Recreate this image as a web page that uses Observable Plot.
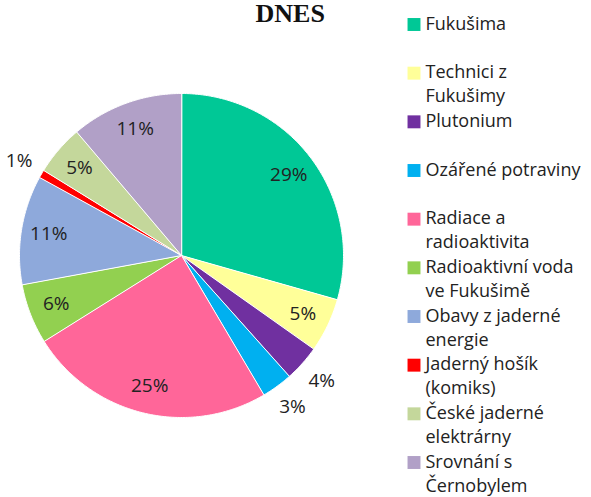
<!DOCTYPE html>
<html><head><meta charset="utf-8">
<script src="https://cdn.jsdelivr.net/npm/d3@7"></script>
<script src="https://cdn.jsdelivr.net/npm/@observablehq/plot@0.6"></script>
<style>
body{margin:0;background:#fff;}
#wrap{position:relative;width:591px;height:497px;overflow:hidden;background:#fff;}
#wrap svg{position:absolute;top:0;}
</style></head><body><div id="wrap"></div>
<script>
const title = "DNES";
const categories = ["Fukušima","Technici z Fukušimy","Plutonium","Ozářené potraviny","Radiace a radioaktivita","Radioaktivní voda ve Fukušimě","Obavy z jaderné energie","Jaderný hošík (komiks)","České jaderné elektrárny","Srovnání s Černobylem"];
const legendLabels = ["Fukušima","Technici z\nFukušimy","Plutonium","Ozářené potraviny","Radiace a\nradioaktivita","Radioaktivní voda\nve Fukušimě","Obavy z jaderné\nenergie","Jaderný hošík\n(komiks)","České jaderné\nelektrárny","Srovnání s\nČernobylem"];
const values = [29.4, 5.4, 3.6, 3.1, 24.6, 6.0, 10.9, 0.8, 5.0, 11.2];
const colors = ["#00C896","#FFFF99","#7030A0","#00B0F0","#FF6699","#92D050","#8EA9DB","#FF0000","#C4D79B","#B1A0C7"];

const arcs = d3.pie().sort(null).value(d => d)(values);
const slicePts = [];
arcs.forEach((a, i) => {
  const n = Math.max(2, Math.ceil((a.endAngle - a.startAngle) / 0.01));
  slicePts.push({cat: categories[i], x: 0, y: 0});
  for (let k = 0; k <= n; k++) {
    const t = a.startAngle + (a.endAngle - a.startAngle) * k / n;
    slicePts.push({cat: categories[i], x: Math.sin(t), y: Math.cos(t)});
  }
});
const labelData = arcs.map((a, i) => {
  const m = (a.startAngle + a.endAngle) / 2;
  const r = values[i] < 4.5 ? 1.16 : 0.83;
  return {text: d3.format(".0f")(values[i]) + "%", x: r * Math.sin(m), y: r * Math.cos(m)};
});

const pie = Plot.plot({
  width: 591, height: 497,
  marginLeft: 19, marginRight: 248, marginTop: 93, marginBottom: 80,
  x: {domain: [-1, 1], axis: null},
  y: {domain: [-1, 1], axis: null},
  color: {domain: categories, range: colors},
  style: {background: "transparent", fontFamily: "Open Sans"},
  marks: [
    Plot.line(slicePts, {x: "x", y: "y", z: "cat", fill: "cat", stroke: "white", strokeWidth: 1, curve: "linear-closed"}),
    Plot.text(labelData, {x: "x", y: "y", text: "text", fontSize: 19, fill: "#222"}),
    Plot.text([title], {frameAnchor: "top-left", dx: 236, dy: -80, text: d => d, textAnchor: "start", lineAnchor: "middle", fontFamily: "Liberation Serif", fontWeight: "bold", fontSize: 26, fill: "#111"})
  ]
});
pie.style.left = "0px";

const legend = Plot.plot({
  width: 191, height: 497, margin: 0,
  x: {domain: [0, 1], axis: null},
  y: {domain: [0, categories.length - 1], range: [24, 462], axis: null},
  color: {domain: categories, range: colors},
  style: {background: "transparent", fontFamily: "Open Sans"},
  marks: [
    Plot.dot(categories, {frameAnchor: "left", dx: 13.5, y: (d, i) => i, fill: d => d, symbol: "square", r: 7.3, stroke: null}),
    Plot.text(legendLabels, {frameAnchor: "left", dx: 25, y: (d, i) => i, text: d => d, textAnchor: "start", lineAnchor: "top", dy: -12, lineHeight: 1.34, fontSize: 18, fill: "#222"})
  ]
});
legend.style.left = "400px";

const wrap = document.getElementById("wrap");
wrap.appendChild(pie);
wrap.appendChild(legend);
</script>
</body></html>
